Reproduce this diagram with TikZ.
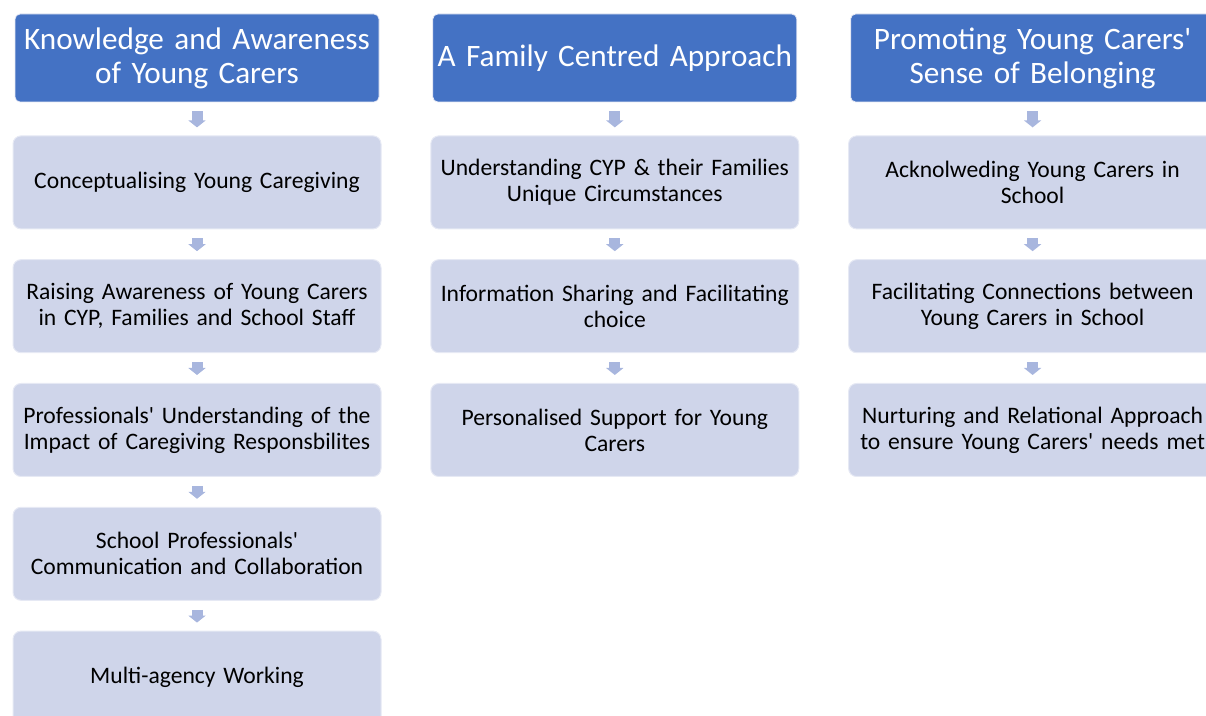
\documentclass[tikz,border=0pt]{standalone}
\usepackage{fontspec}
\setmainfont{Carlito}
\usetikzlibrary{positioning,arrows.meta}
\definecolor{HeadBlue}{HTML}{4472C4}
\definecolor{SubFill}{HTML}{CFD5EA}
\definecolor{SubLine}{HTML}{E6E9F4}
\definecolor{StepArrow}{HTML}{A8B6DE}

\begin{document}
\begin{tikzpicture}[x=0.5pt,y=-0.5pt,>={Triangle[width=8.5pt,length=3.5pt]}]
  \tikzstyle{head}=[draw=SubLine,line width=0.4pt,fill=HeadBlue,rounded corners=2.5pt,
    text=white,text width=180pt,minimum width=182pt,minimum height=44pt,
    inner sep=0pt,align=center,font=\fontsize{15.6}{17}\selectfont]
  \tikzstyle{sub}=[draw=SubLine,line width=0.5pt,fill=SubFill,rounded corners=4pt,
    text width=182pt,minimum width=184pt,minimum height=46.5pt,
    inner sep=0pt,align=center,font=\fontsize{11.8}{13}\selectfont]
  \tikzstyle{flow}=[->,draw=StepArrow,line width=5.5pt,shorten <=4.5pt,shorten >=4pt]
  \useasboundingbox (0,0) rectangle (1206,716);
  \clip (0,0) rectangle (1206,716);
  % three column headings
  \node[head] (k) at (197,58) {Knowledge and Awareness\\of Young Carers};
  \node[head,right=26.5pt of k] (f) {A Family Centred Approach};
  \node[head,right=26.5pt of f] (p) {Promoting Young Carers\textquotesingle\\Sense of Belonging};
  % first column
  \node[sub,below=16.5pt of k] (k1) {Conceptualising Young Caregiving};
  \node[sub,below=14.9pt of k1] (k2) {Raising Awareness of Young Carers\\in CYP, Families and School Staff};
  \node[sub,below=14.9pt of k2] (k3) {Professionals\textquotesingle{} Understanding of the\\Impact of Caregiving Responsbilites};
  \node[sub,below=14.9pt of k3] (k4) {School Professionals\textquotesingle\\Communication and Collaboration};
  \node[sub,below=14.9pt of k4] (k5) {Multi-agency Working};
  % second column
  \node[sub,below=16.5pt of f] (f1) {Understanding CYP \& their Families\\Unique Circumstances};
  \node[sub,below=14.9pt of f1] (f2) {Information Sharing and Facilitating\\choice};
  \node[sub,below=14.9pt of f2] (f3) {Personalised Support for Young\\Carers};
  % third column
  \node[sub,below=16.5pt of p] (p1) {Acknolweding Young Carers in\\School};
  \node[sub,below=14.9pt of p1] (p2) {Facilitating Connections between\\Young Carers in School};
  \node[sub,below=14.9pt of p2] (p3) {Nurturing and Relational Approach\\to ensure Young Carers\textquotesingle{} needs met};
  \draw[flow] (k)--(k1);
  \draw[flow] (k1)--(k2);
  \draw[flow] (k2)--(k3);
  \draw[flow] (k3)--(k4);
  \draw[flow] (k4)--(k5);
  \draw[flow] (f)--(f1);
  \draw[flow] (f1)--(f2);
  \draw[flow] (f2)--(f3);
  \draw[flow] (p)--(p1);
  \draw[flow] (p1)--(p2);
  \draw[flow] (p2)--(p3);
\end{tikzpicture}
\end{document}
